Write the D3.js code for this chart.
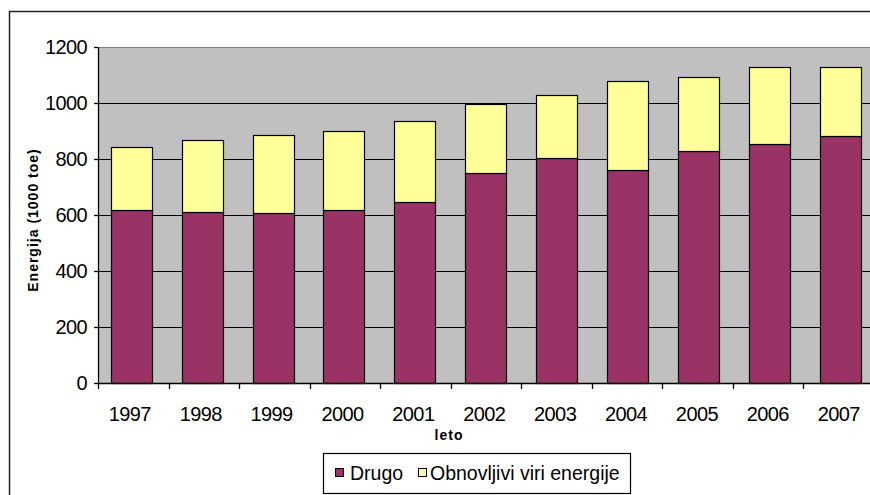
<!DOCTYPE html>
<html>
<head>
<meta charset="utf-8">
<script src="https://cdn.jsdelivr.net/npm/d3@7"></script>
<style>
  html, body { margin: 0; padding: 0; background: #fff; }
  svg { display: block; }
  text { font-family: "Liberation Sans", Arial, sans-serif; fill: #000; }
</style>
</head>
<body>
<svg id="chart" width="870" height="495"></svg>
<script>
// Energy use by year (1000 toe)
const years = ["1997","1998","1999","2000","2001","2002","2003","2004","2005","2006","2007"];
const drugo = [618, 610, 606, 617, 647, 749, 805, 761, 830, 855, 881];
const obnovljivi = [226, 258, 281, 282, 290, 249, 225, 319, 262, 275, 249];
const yTicks = [0, 200, 400, 600, 800, 1000, 1200];
const seriesNames = ["Drugo", "Obnovljivi viri energije"];
const seriesColors = ["#993366", "#FFFF99"];

const svg = d3.select("#chart");

// plot region
const plotLeft = 98, plotRight = 873.5, plotTop = 47, plotBottom = 383;

// outer chart frame
svg.append("rect")
  .attr("x", 9.5).attr("y", 11.5)
  .attr("width", 900).attr("height", 520)
  .attr("fill", "#fff").attr("stroke", "#222").attr("stroke-width", 1.5);

const x = d3.scaleBand().domain(years).range([plotLeft, plotRight])
  .paddingInner(0.42).paddingOuter(0.18);
const y = d3.scaleLinear().domain([0, 1200]).range([plotBottom, plotTop]);

// gray plot background
svg.append("rect")
  .attr("x", plotLeft).attr("y", plotTop)
  .attr("width", plotRight - plotLeft).attr("height", plotBottom - plotTop)
  .attr("fill", "#C0C0C0");

// horizontal gridlines
svg.append("g").selectAll("line")
  .data(yTicks.filter(t => t > 0))
  .join("line")
  .attr("x1", plotLeft).attr("x2", plotRight)
  .attr("y1", d => Math.round(y(d)) + 0.5).attr("y2", d => Math.round(y(d)) + 0.5)
  .attr("stroke", d => d === 1200 ? "#808080" : "#000")
  .attr("stroke-width", 1);

// stacked bars
const rows = years.map((yr, i) => ({ year: yr, Drugo: drugo[i], "Obnovljivi viri energije": obnovljivi[i] }));
const stacked = d3.stack().keys(seriesNames)(rows);

svg.append("g").selectAll("g")
  .data(stacked)
  .join("g")
  .attr("fill", (d, i) => seriesColors[i])
  .selectAll("rect")
  .data(d => d)
  .join("rect")
  .attr("x", d => Math.round(x(d.data.year)) + 0.5)
  .attr("width", Math.round(x.bandwidth()))
  .attr("y", d => Math.round(y(d[1])) + 0.5)
  .attr("height", d => Math.round(y(d[0])) - Math.round(y(d[1])))
  .attr("stroke", "#000")
  .attr("stroke-width", 1.2);

// y axis
const yAxis = svg.append("g")
  .attr("transform", `translate(${plotLeft},0)`)
  .call(d3.axisLeft(y).tickValues(yTicks).tickFormat(d3.format("d"))
    .tickSize(4).tickPadding(7).tickSizeOuter(0));
yAxis.select(".domain").attr("stroke", "#000").attr("stroke-width", 1.3);
yAxis.selectAll(".tick line").attr("stroke", "#000").attr("stroke-width", 1.3);
yAxis.selectAll(".tick text")
  .style("font-size", "20px")
  .attr("letter-spacing", "-0.6");

// x axis: ticks on category boundaries
const xg = svg.append("g").attr("transform", `translate(0,${plotBottom})`);
xg.append("line")
  .attr("x1", plotLeft).attr("x2", plotRight)
  .attr("y1", 0.5).attr("y2", 0.5)
  .attr("stroke", "#000").attr("stroke-width", 1.3);
const boundaries = years.map((yr, i) => plotLeft + i * (plotRight - plotLeft) / years.length)
  .concat([plotRight]);
xg.selectAll("line.tk")
  .data(boundaries)
  .join("line")
  .attr("class", "tk")
  .attr("x1", d => Math.round(d) + 0.5).attr("x2", d => Math.round(d) + 0.5)
  .attr("y1", 0).attr("y2", 6)
  .attr("stroke", "#000").attr("stroke-width", 1.3);
xg.selectAll("text")
  .data(years)
  .join("text")
  .attr("x", d => x(d) + x.bandwidth() / 2 - 1.5)
  .attr("y", 38)
  .attr("text-anchor", "middle")
  .attr("letter-spacing", "-0.6")
  .style("font-size", "20px")
  .text(d => d);

// axis titles
svg.append("text")
  .attr("transform", "translate(38,220) rotate(-90)")
  .attr("text-anchor", "middle")
  .attr("letter-spacing", "1")
  .style("font-size", "14px")
  .style("font-weight", "bold")
  .text("Energija (1000 toe)");

svg.append("text")
  .attr("x", 449).attr("y", 440)
  .attr("text-anchor", "middle")
  .attr("letter-spacing", "1")
  .style("font-size", "14px")
  .style("font-weight", "bold")
  .text("leto");

// legend
const lg = svg.append("g");
lg.append("rect")
  .attr("x", 323.5).attr("y", 453.5)
  .attr("width", 307).attr("height", 40)
  .attr("fill", "#fff").attr("stroke", "#000").attr("stroke-width", 1.2);
const legendX = [335, 418];
const items = lg.selectAll("g.item")
  .data(seriesNames)
  .join("g")
  .attr("class", "item")
  .attr("transform", (d, i) => `translate(${legendX[i]},0)`);
items.append("rect")
  .attr("x", 0.5).attr("y", 468.5)
  .attr("width", 8).attr("height", 8)
  .attr("fill", (d, i) => seriesColors[i])
  .attr("stroke", "#000").attr("stroke-width", 1);
items.append("text")
  .attr("x", (d, i) => i === 0 ? 15 : 12)
  .attr("y", 479.5)
  .style("font-size", "19.5px")
  .text(d => d);
</script>
</body>
</html>
